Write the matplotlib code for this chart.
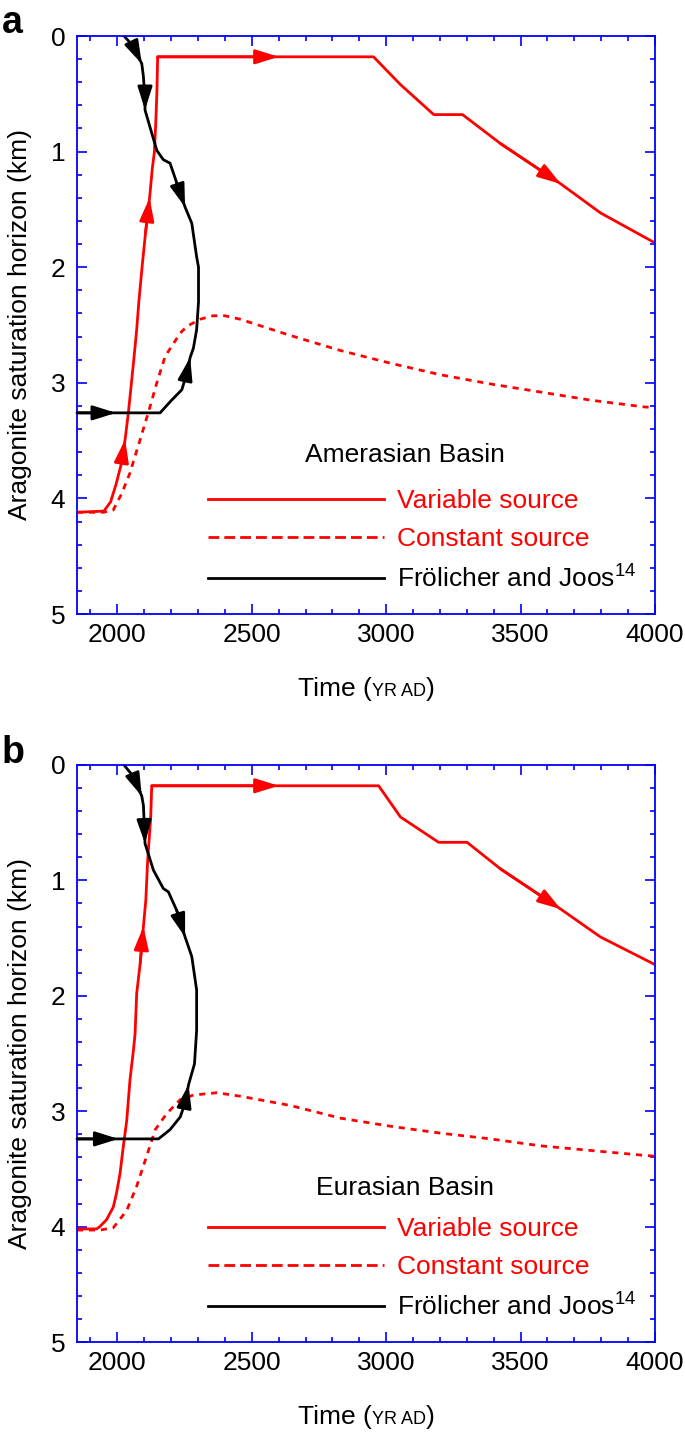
import matplotlib
matplotlib.use('Agg')
import matplotlib.pyplot as plt
from matplotlib.lines import Line2D
from matplotlib.ticker import MultipleLocator
from matplotlib.offsetbox import TextArea, HPacker, AnchoredOffsetbox

plt.rcParams['font.family'] = ['Liberation Sans', 'DejaVu Sans']
plt.rcParams['mathtext.fontset'] = 'custom'
plt.rcParams['mathtext.rm'] = 'Liberation Sans'
plt.rcParams['mathtext.it'] = 'Liberation Sans:italic'

# --- Data (year AD, depth in km) ---
# Panel a: Amerasian Basin
A_VAR_YR = [1850, 1950, 1975, 1995, 2015, 2029, 2041, 2060, 2072, 2080, 2092, 2105, 2120,
            2130, 2138, 2143, 2147, 2150, 2600, 2953, 3053, 3177, 3284, 3425, 3650, 3797, 4000]
A_VAR_KM = [4.12, 4.11, 4.03, 3.88, 3.70, 3.49, 3.26, 2.83, 2.54, 2.30, 2.00, 1.70, 1.40,
            1.15, 1.00, 0.75, 0.50, 0.18, 0.18, 0.18, 0.42, 0.68, 0.68, 0.93, 1.28, 1.53, 1.79]
A_CON_YR = [1850, 1950, 1985, 2016, 2047, 2085, 2115, 2147, 2178, 2209, 2234, 2260, 2308,
            2357, 2400, 2457, 2643, 2829, 3015, 3201, 3388, 3574, 3760, 3965, 4000]
A_CON_KM = [4.12, 4.12, 4.10, 3.96, 3.78, 3.49, 3.26, 3.00, 2.77, 2.66, 2.57, 2.51, 2.45,
            2.42, 2.42, 2.45, 2.59, 2.72, 2.83, 2.93, 3.01, 3.08, 3.15, 3.21, 3.21]
A_FJ_YR = [1850, 1995, 2159, 2202, 2240, 2258, 2271, 2283, 2295, 2302, 2302, 2295, 2277,
           2252, 2221, 2196, 2171, 2147, 2128, 2103, 2103, 2097, 2091, 2060, 2025]
A_FJ_KM = [3.26, 3.26, 3.26, 3.15, 3.06, 2.92, 2.78, 2.70, 2.54, 2.30, 2.00, 1.91, 1.62,
           1.48, 1.27, 1.10, 1.07, 0.99, 0.84, 0.64, 0.55, 0.35, 0.24, 0.09, 0.00]

# Panel b: Eurasian Basin
B_VAR_YR = [1850, 1923, 1935, 1960, 1985, 1997, 2010, 2022, 2035, 2047, 2060, 2066, 2072, 2085,
            2097, 2106, 2113, 2124, 2128, 2600, 2972, 3053, 3195, 3301, 3425, 3650, 3797, 4000]
B_VAR_KM = [4.02, 4.02, 4.00, 3.94, 3.83, 3.71, 3.54, 3.31, 3.08, 2.73, 2.47, 2.33, 1.98, 1.72,
            1.40, 1.17, 0.82, 0.46, 0.18, 0.18, 0.18, 0.45, 0.67, 0.67, 0.90, 1.25, 1.49, 1.73]
B_CON_YR = [1850, 1935, 1985, 2035, 2072, 2109, 2141, 2184, 2234, 2283, 2370, 2457, 2643,
            2829, 3015, 3201, 3388, 3574, 3760, 3947, 4000]
B_CON_KM = [4.03, 4.03, 4.01, 3.86, 3.65, 3.39, 3.16, 3.02, 2.90, 2.86, 2.84, 2.87, 2.95,
            3.06, 3.13, 3.19, 3.24, 3.30, 3.34, 3.38, 3.39]
B_FJ_YR = [1850, 2004, 2153, 2196, 2234, 2252, 2265, 2287, 2295, 2295, 2277, 2252, 2221,
           2190, 2171, 2134, 2122, 2103, 2100, 2097, 2091, 2060, 2025]
B_FJ_KM = [3.24, 3.24, 3.24, 3.16, 3.05, 2.93, 2.77, 2.59, 2.30, 1.95, 1.66, 1.49, 1.26,
           1.10, 1.07, 0.91, 0.82, 0.68, 0.50, 0.35, 0.27, 0.10, 0.00]

# Arrowheads: (tip index, tail index) into the series above
A_VAR_ARROWS = [(5, 4), (12, 11), (18, 17), (24, 23)]
A_FJ_ARROWS = [(1, 0), (6, 5), (13, 14), (19, 20), (22, 23)]
B_VAR_ARROWS = [(14, 13), (19, 18), (25, 24)]
B_FJ_ARROWS = [(1, 0), (6, 5), (11, 12), (17, 18), (20, 21)]

LEGEND_LABELS = ['Variable source', 'Constant source', 'Fr\u00f6licher and Joos$^{14}$']
LEGEND_COLORS = ['red', 'red', 'black']
X_TICKS = [2000, 2500, 3000, 3500, 4000]
Y_TICKS = [0, 1, 2, 3, 4, 5]

FS = 19
LW = 2.0
AXIS_BLUE = '#0000ff'
DASH = (0, (2.2, 2.1))


def add_arrows(ax, xs, ys, pairs, color):
    for tip, tail in pairs:
        ax.annotate('', xy=(xs[tip], ys[tip]), xytext=(xs[tail], ys[tail]),
                    arrowprops=dict(arrowstyle='-|>,head_length=0.7,head_width=0.22',
                                    color=color, lw=LW, shrinkA=0, shrinkB=0,
                                    mutation_scale=20))


def draw_panel(ax, var, con, fj, var_arrows, fj_arrows, basin, title_y):
    ax.plot(con[0], con[1], color='red', lw=LW, ls=DASH)
    ax.plot(var[0], var[1], color='red', lw=LW)
    ax.plot(fj[0], fj[1], color='black', lw=LW)
    add_arrows(ax, var[0], var[1], var_arrows, 'red')
    add_arrows(ax, fj[0], fj[1], fj_arrows, 'black')

    ax.set_xlim(1850, 4000)
    ax.set_ylim(5, 0)
    ax.set_xticks(X_TICKS)
    ax.set_yticks(Y_TICKS)
    ax.xaxis.set_minor_locator(MultipleLocator(100))
    ax.yaxis.set_minor_locator(MultipleLocator(0.2))
    ax.tick_params(which='both', direction='in', top=True, right=True,
                   color=AXIS_BLUE, width=1.2, labelsize=FS)
    ax.tick_params(which='major', length=7)
    ax.tick_params(which='minor', length=3.5)
    ax.tick_params(axis='x', pad=6.5)
    ax.tick_params(axis='y', pad=8.5)
    for sp in ax.spines.values():
        sp.set_color(AXIS_BLUE)
        sp.set_linewidth(1.3)

    ax.set_ylabel('Aragonite saturation horizon (km)', fontsize=FS)
    ax.yaxis.set_label_coords(-0.077, 0.5)

    # x label with small caps unit
    parts = [TextArea('Time (', textprops=dict(fontsize=FS)),
             TextArea('YR AD', textprops=dict(fontsize=13)),
             TextArea(')', textprops=dict(fontsize=FS))]
    box = HPacker(children=parts, align='baseline', pad=0, sep=0)
    ab = AnchoredOffsetbox(loc='center', child=box, pad=0, borderpad=0, frameon=False,
                           bbox_to_anchor=(0.5, -0.13), bbox_transform=ax.transAxes)
    ax.add_artist(ab)

    ax.text(0.568, title_y, basin, transform=ax.transAxes, ha='center', va='center',
            fontsize=FS, color='black')
    handles = [Line2D([], [], color='red', lw=LW),
               Line2D([], [], color='red', lw=LW, ls=(0, (3.9, 1.8))),
               Line2D([], [], color='black', lw=LW)]
    leg = ax.legend(handles, LEGEND_LABELS, loc='upper left', bbox_to_anchor=(0.227, 0.216),
                    frameon=False, borderpad=0, borderaxespad=0, handlelength=6.67,
                    handletextpad=0.5, labelspacing=0.53, fontsize=FS)
    for t, c in zip(leg.get_texts(), LEGEND_COLORS):
        t.set_color(c)


fig = plt.figure(figsize=(6.85, 14.32), dpi=100)
ax1 = fig.add_axes([77 / 685, 1 - 614 / 1432, 578 / 685, 578 / 1432])
ax2 = fig.add_axes([77 / 685, 1 - 1342 / 1432, 578 / 685, 577 / 1432])

draw_panel(ax1, (A_VAR_YR, A_VAR_KM), (A_CON_YR, A_CON_KM), (A_FJ_YR, A_FJ_KM),
           A_VAR_ARROWS, A_FJ_ARROWS, 'Amerasian Basin', 0.275)
draw_panel(ax2, (B_VAR_YR, B_VAR_KM), (B_CON_YR, B_CON_KM), (B_FJ_YR, B_FJ_KM),
           B_VAR_ARROWS, B_FJ_ARROWS, 'Eurasian Basin', 0.267)

fig.text(2 / 685, 1 - 33 / 1432, 'a', fontsize=27, fontweight='bold', ha='left', va='baseline')
fig.text(2 / 685, 1 - 763 / 1432, 'b', fontsize=27, fontweight='bold', ha='left', va='baseline')

fig.savefig('out.png', dpi=100)
